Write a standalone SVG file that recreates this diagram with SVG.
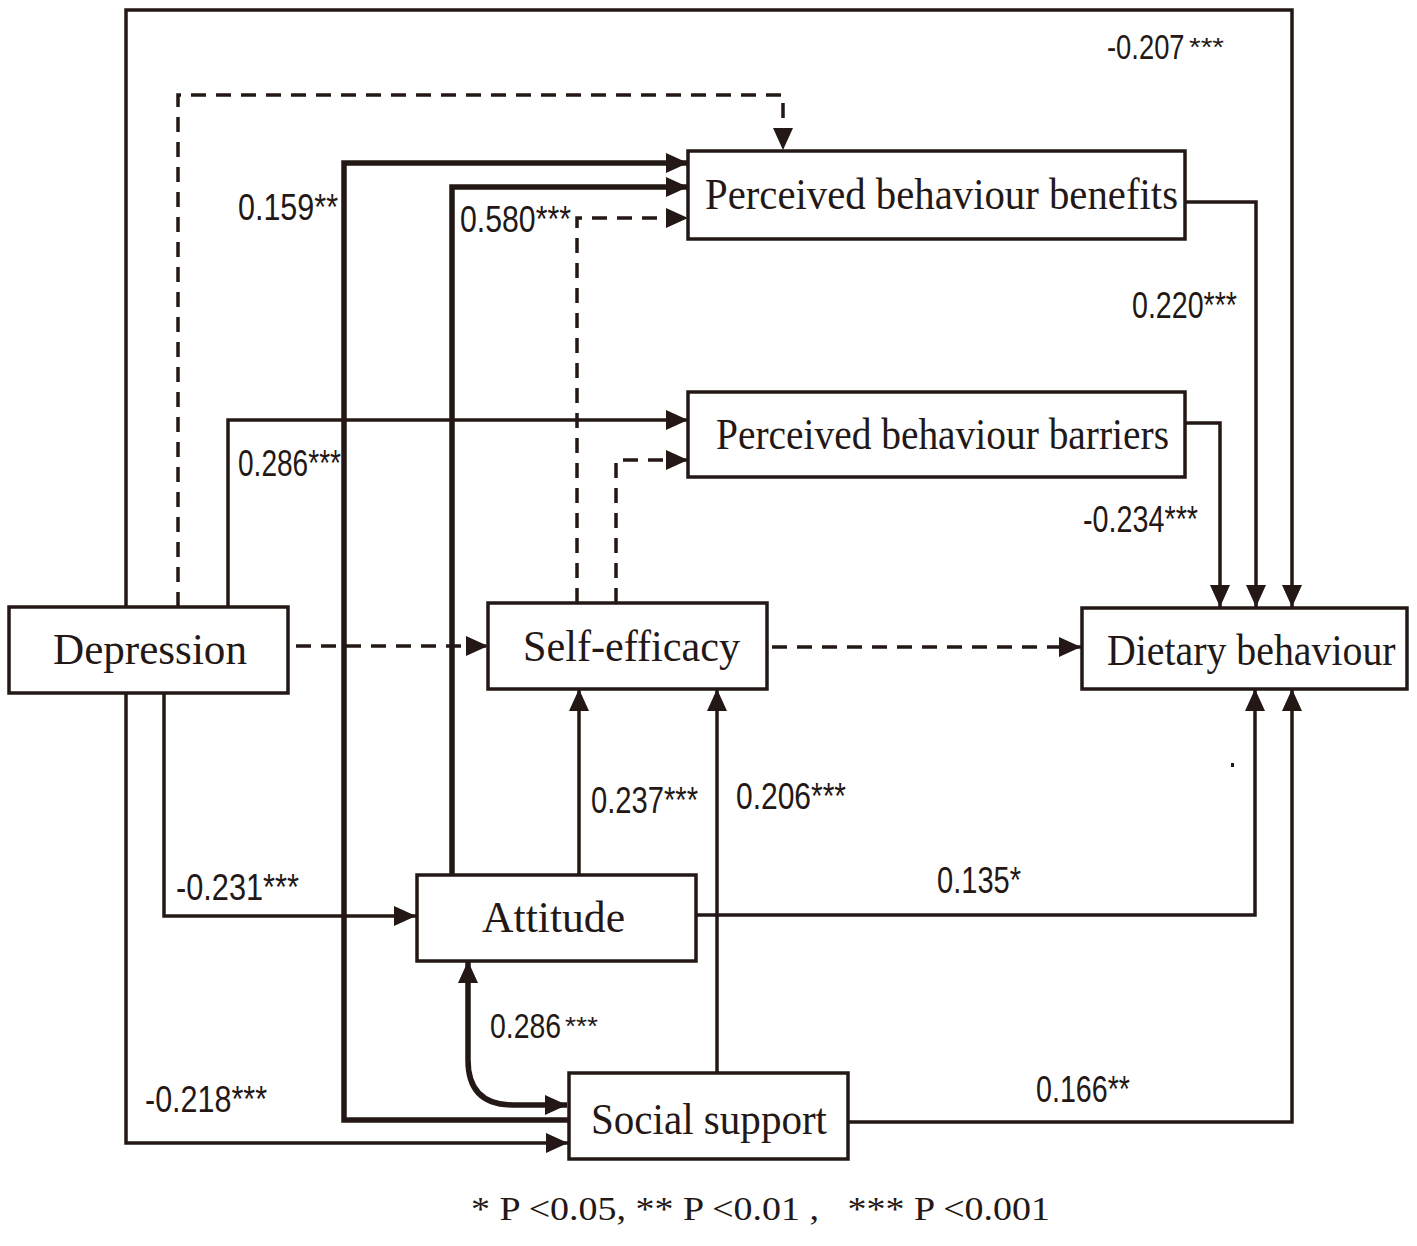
<svg xmlns="http://www.w3.org/2000/svg" width="1417" height="1246" viewBox="0 0 1417 1246">
<style>
.box{fill:#fff;stroke:#231815;stroke-width:3.5}
.nl{font-family:"Liberation Serif","Times New Roman",serif;font-size:45px;fill:#231815}
.lb{font-family:"Liberation Sans",Arial,sans-serif;font-size:36px;fill:#231815}
.sm{font-family:"Liberation Sans",Arial,sans-serif;font-size:25px;fill:#231815}
.ln{fill:none;stroke:#231815;stroke-width:3.5;marker-end:url(#ah)}
.tk{stroke-width:5.5}
.ds{stroke-dasharray:15 10}
.fn{font-family:"Liberation Serif","Times New Roman",serif;font-size:33px;fill:#231815}
</style>
<defs>
<marker id="ah" markerUnits="userSpaceOnUse" markerWidth="24" markerHeight="22" refX="22" refY="10" orient="auto-start-reverse" viewBox="0 0 24 22">
<path d="M0,0 L22,10 L0,20 z" fill="#231815"/>
</marker>
</defs>
<rect width="1417" height="1246" fill="#fff"/>
<g id="connectors">
<path class="ln" d="M126,607 V10 H1292 V607"/>
<path class="ln" d="M126,693 V1143 H568"/>
<path class="ln" d="M164,693 V916 H416"/>
<path class="ln ds" d="M178,607 V95 H783 V150"/>
<path class="ln" d="M228,607 V420 H688"/>
<path class="ln ds" d="M296,646 H488"/>
<path class="ln ds" d="M772,647 H1081"/>
<path class="ln ds" d="M577,603 V218 H688"/>
<path class="ln ds" d="M616,603 V460 H688"/>
<path class="ln tk" d="M452,875 V187 H688"/>
<path class="ln tk" d="M568,1120 H344 V163 H688"/>
<path class="ln" d="M579,875 V689"/>
<path class="ln" d="M717,1073 V689"/>
<path class="ln" d="M696,915 H1255 V689"/>
<path class="ln" d="M848,1122 H1292 V689"/>
<path class="ln" d="M1185,202 H1256 V607"/>
<path class="ln" d="M1185,423 H1220 V607"/>
<path class="ln tk" d="M468,961 V1060 Q468,1105 513,1105 H567" style="marker-start:url(#ah)"/>
<rect x="1231" y="763" width="3" height="4" fill="#231815"/>
</g>
<g id="labels">
<text class="lb" transform="translate(1107,59) scale(0.76,1)">-0.207</text>
<text class="sm" x="1189" y="56" textLength="35" lengthAdjust="spacingAndGlyphs">***</text>
<text class="lb" x="238" y="220" textLength="100" lengthAdjust="spacingAndGlyphs">0.159**</text>
<text class="lb" x="460" y="232" textLength="111" lengthAdjust="spacingAndGlyphs">0.580***</text>
<text class="lb" x="238" y="476" textLength="103" lengthAdjust="spacingAndGlyphs">0.286***</text>
<text class="lb" x="1132" y="318" textLength="105" lengthAdjust="spacingAndGlyphs">0.220***</text>
<text class="lb" x="1083" y="532" textLength="115" lengthAdjust="spacingAndGlyphs">-0.234***</text>
<text class="lb" x="591" y="813" textLength="107" lengthAdjust="spacingAndGlyphs">0.237***</text>
<text class="lb" x="736" y="809" textLength="110" lengthAdjust="spacingAndGlyphs">0.206***</text>
<text class="lb" x="937" y="893" textLength="84" lengthAdjust="spacingAndGlyphs">0.135*</text>
<text class="lb" x="176" y="900" textLength="123" lengthAdjust="spacingAndGlyphs">-0.231***</text>
<text class="lb" transform="translate(490,1038) scale(0.79,1)">0.286</text>
<text class="sm" x="565" y="1035" textLength="33" lengthAdjust="spacingAndGlyphs">***</text>
<text class="lb" x="145" y="1112" textLength="122" lengthAdjust="spacingAndGlyphs">-0.218***</text>
<text class="lb" x="1036" y="1102" textLength="94" lengthAdjust="spacingAndGlyphs">0.166**</text>
</g>
<g id="benefits">
<rect class="box" x="688" y="151" width="497" height="88"/>
<text class="nl" x="705" y="209" textLength="473" lengthAdjust="spacingAndGlyphs">Perceived behaviour benefits</text>
</g>
<g id="barriers">
<rect class="box" x="688" y="392" width="497" height="85"/>
<text class="nl" x="716" y="449" textLength="453" lengthAdjust="spacingAndGlyphs">Perceived behaviour barriers</text>
</g>
<g id="depression">
<rect class="box" x="9" y="607" width="279" height="86"/>
<text class="nl" x="53" y="664" textLength="194" lengthAdjust="spacingAndGlyphs">Depression</text>
</g>
<g id="self-efficacy">
<rect class="box" x="488" y="603" width="279" height="86"/>
<text class="nl" x="523" y="661" textLength="217" lengthAdjust="spacingAndGlyphs">Self-efficacy</text>
</g>
<g id="dietary">
<rect class="box" x="1082" y="608" width="325" height="81"/>
<text class="nl" transform="translate(1107,665) scale(0.885,1)">Dietary behaviour</text>
</g>
<g id="attitude">
<rect class="box" x="417" y="875" width="279" height="86"/>
<text class="nl" x="482" y="932" textLength="143" lengthAdjust="spacingAndGlyphs">Attitude</text>
</g>
<g id="social-support">
<rect class="box" x="569" y="1073" width="279" height="86"/>
<text class="nl" x="591" y="1134" textLength="236" lengthAdjust="spacingAndGlyphs">Social support</text>
</g>
<text class="fn" x="471" y="1220" textLength="579" lengthAdjust="spacingAndGlyphs" xml:space="preserve">* P &lt;0.05, ** P &lt;0.01 ,   *** P &lt;0.001</text>
</svg>
